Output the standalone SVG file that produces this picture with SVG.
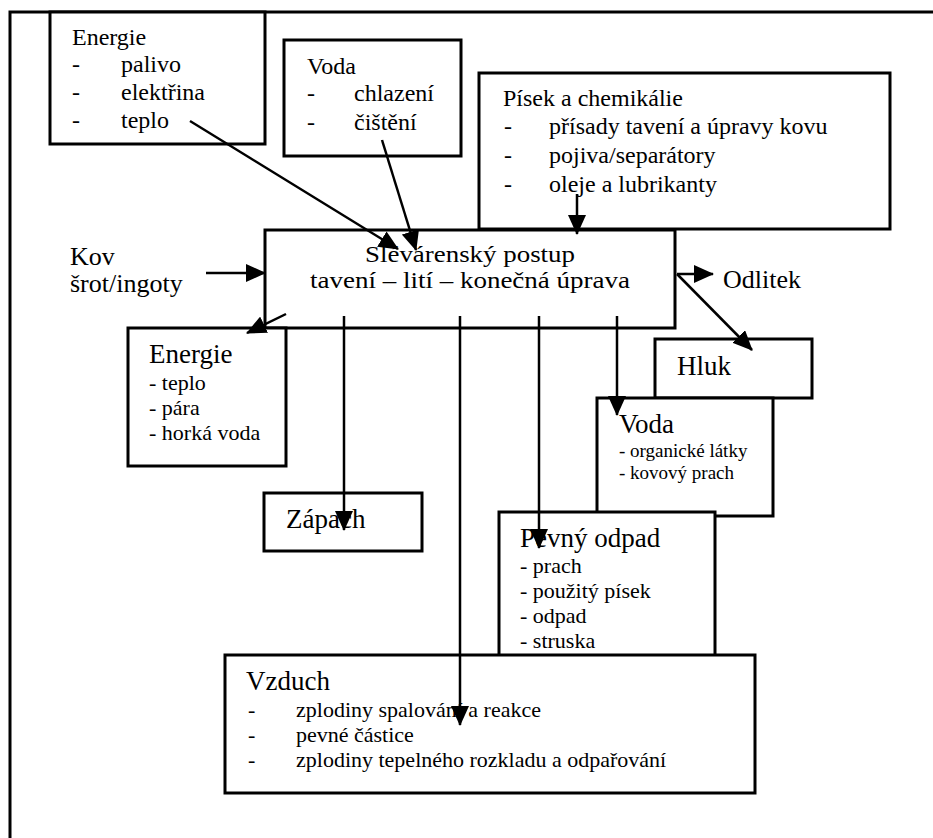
<svg xmlns="http://www.w3.org/2000/svg" width="933" height="838" viewBox="0 0 933 838">
<defs>
<marker id="ah" viewBox="0 0 20 18" refX="19" refY="9" markerWidth="20" markerHeight="18" markerUnits="userSpaceOnUse" orient="auto">
<path d="M0,0 L20,9 L0,18 z" fill="#000"/>
</marker>
<style>
.box{fill:#fff;stroke:#000;stroke-width:3}
.frame{fill:none;stroke:#000;stroke-width:3}
text{font-family:"Liberation Serif","Times New Roman",serif;fill:#000}
.t24{font-size:24px}
.t27{font-size:27px}
.t26{font-size:26px}
.t23{font-size:23px}
.t22{font-size:22px}
.t19{font-size:19px}
.c{stroke:#000;stroke-width:2.5;fill:none;marker-end:url(#ah)}
</style>
</defs>
<rect width="933" height="838" fill="#fff"/>
<g id="frame">
<path class="frame" d="M933,12 L10,12 L10,838"/>
</g>
<g id="energie-vstup">
<rect class="box" x="50" y="12" width="215" height="132"/>
<text class="t24" x="72" y="45">Energie</text>
<text class="t24" x="72" y="72">-</text><text class="t24" x="121" y="72">palivo</text>
<text class="t24" x="72" y="100">-</text><text class="t24" x="121" y="100">elektřina</text>
<text class="t24" x="72" y="128">-</text><text class="t24" x="121" y="128">teplo</text>
</g>
<g id="voda-vstup">
<rect class="box" x="284" y="40" width="177" height="116"/>
<text class="t24" x="307" y="74">Voda</text>
<text class="t24" x="307" y="101">-</text><text class="t24" x="354" y="101">chlazení</text>
<text class="t24" x="307" y="130">-</text><text class="t24" x="354" y="130">čištění</text>
</g>
<g id="pisek">
<rect class="box" x="479" y="73" width="411" height="156"/>
<text class="t24" x="503" y="106">Písek a chemikálie</text>
<text class="t24" x="504" y="134">-</text><text class="t24" x="549" y="134">přísady tavení a úpravy kovu</text>
<text class="t24" x="504" y="163">-</text><text class="t24" x="549" y="163">pojiva/separátory</text>
<text class="t24" x="504" y="192">-</text><text class="t24" x="549" y="192">oleje a lubrikanty</text>
</g>
<g id="postup">
<rect class="box" x="265" y="230" width="410" height="98"/>
<text class="t23" x="365" y="262" textLength="210" lengthAdjust="spacingAndGlyphs">Slévárenský postup</text>
<text class="t23" x="310" y="288" textLength="320" lengthAdjust="spacingAndGlyphs">tavení – lití – konečná úprava</text>
</g>
<g id="kov">
<text class="t26" x="70" y="265">Kov</text>
<text class="t26" x="70" y="292">šrot/ingoty</text>
</g>
<g id="odlitek">
<text class="t26" x="723" y="288">Odlitek</text>
</g>
<g id="energie-vystup">
<rect class="box" x="128" y="328" width="158" height="138"/>
<text class="t27" x="149" y="363">Energie</text>
<text class="t22" x="149" y="390">- teplo</text>
<text class="t22" x="149" y="415">- pára</text>
<text class="t22" x="149" y="440">- horká voda</text>
</g>
<g id="hluk">
<rect class="box" x="655" y="339" width="157" height="59"/>
<text class="t27" x="677" y="375">Hluk</text>
</g>
<g id="voda-vystup">
<rect class="box" x="597" y="398" width="176" height="118"/>
<text class="t27" x="619" y="433">Voda</text>
<text class="t19" x="619" y="457">- organické látky</text>
<text class="t19" x="619" y="479">- kovový prach</text>
</g>
<g id="zapach">
<rect class="box" x="264" y="493" width="158" height="58"/>
<text class="t27" x="286" y="528">Zápach</text>
</g>
<g id="pevny-odpad">
<rect class="box" x="499" y="512" width="216" height="150"/>
<text class="t27" x="520" y="547">Pevný odpad</text>
<text class="t22" x="520" y="573">- prach</text>
<text class="t22" x="520" y="598">- použitý písek</text>
<text class="t22" x="520" y="623">- odpad</text>
<text class="t22" x="520" y="648">- struska</text>
</g>
<g id="vzduch">
<rect class="box" x="225" y="655" width="530" height="138"/>
<text class="t27" x="246" y="690">Vzduch</text>
<text class="t22" x="248" y="717">-</text><text class="t22" x="296" y="717">zplodiny spalování a reakce</text>
<text class="t22" x="248" y="742">-</text><text class="t22" x="296" y="742">pevné částice</text>
<text class="t22" x="248" y="767">-</text><text class="t22" x="296" y="767">zplodiny tepelného rozkladu a odpařování</text>
</g>
<g id="connectors">
<line class="c" x1="190" y1="121" x2="398" y2="249"/>
<line class="c" x1="382" y1="140" x2="416" y2="250"/>
<line class="c" x1="577" y1="194" x2="577" y2="234"/>
<line class="c" x1="206" y1="273" x2="265" y2="273"/>
<line class="c" x1="286" y1="314" x2="247" y2="333"/>
<line class="c" x1="677" y1="274" x2="713" y2="274"/>
<line class="c" x1="677" y1="274" x2="752" y2="350"/>
<line class="c" x1="344" y1="316" x2="344" y2="530"/>
<line class="c" x1="460" y1="316" x2="460" y2="725"/>
<line class="c" x1="539" y1="316" x2="539" y2="548"/>
<line class="c" x1="617" y1="316" x2="617" y2="415"/>
</g>
</svg>
